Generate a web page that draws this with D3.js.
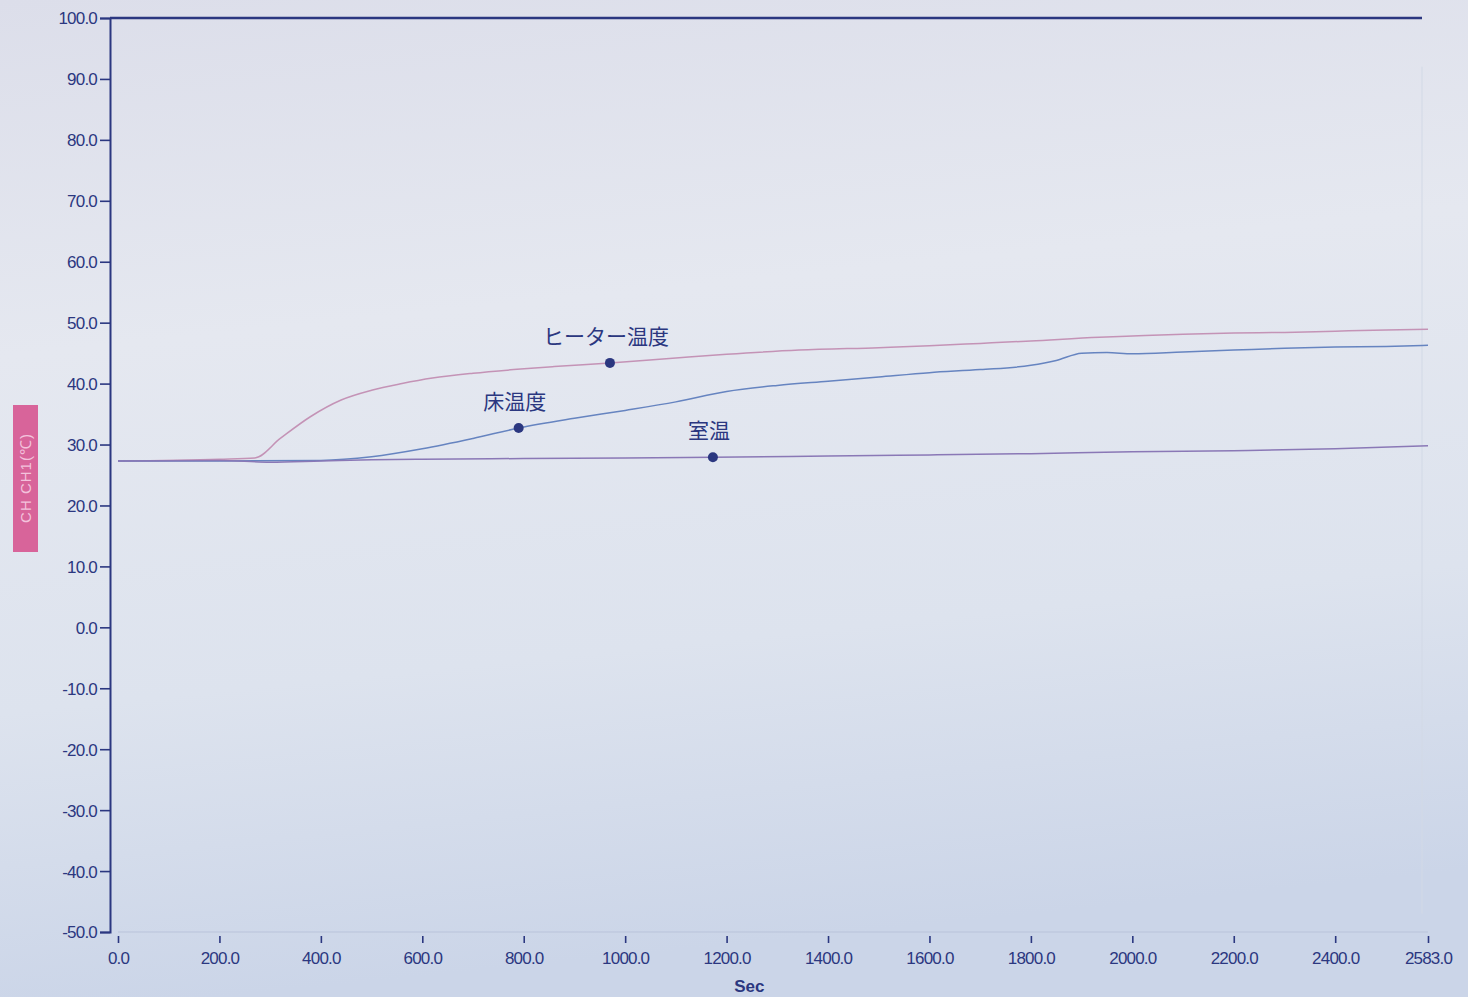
<!DOCTYPE html>
<html>
<head>
<meta charset="utf-8">
<script src="https://cdn.jsdelivr.net/npm/d3@7"></script>
<style>
  html, body { margin: 0; padding: 0; background: #dfe3ec; }
  svg { display: block; }
</style>
</head>
<body>
<div id="chart"></div>
<script>
// values (time in sec, temperature in °C)
const heaterTime = [0, 200, 270, 320, 380, 440, 500, 560, 620, 700, 780, 860, 970, 1100, 1200, 1343, 1500, 1600, 1700, 1800, 1935, 2000, 2100, 2200, 2300, 2400, 2500, 2583];
const heaterTemp = [27.3, 27.6, 27.8, 31.0, 34.6, 37.3, 38.9, 40.0, 40.9, 41.7, 42.3, 42.8, 43.4, 44.2, 44.8, 45.5, 45.9, 46.2, 46.6, 47.0, 47.6, 47.8, 48.1, 48.3, 48.4, 48.6, 48.8, 48.9];

const floorTime = [0, 200, 400, 500, 600, 700, 790, 900, 1000, 1100, 1200, 1300, 1400, 1500, 1600, 1700, 1800, 1850, 1900, 1950, 2000, 2100, 2200, 2300, 2400, 2500, 2583];
const floorTemp = [27.3, 27.3, 27.4, 28.0, 29.3, 31.0, 32.7, 34.3, 35.6, 37.0, 38.7, 39.7, 40.4, 41.1, 41.8, 42.3, 43.0, 43.8, 45.0, 45.1, 44.9, 45.2, 45.5, 45.8, 46.0, 46.1, 46.3];

const roomTime = [0, 200, 300, 400, 500, 600, 800, 1000, 1173, 1400, 1600, 1800, 2000, 2200, 2400, 2583];
const roomTemp = [27.3, 27.4, 27.1, 27.3, 27.5, 27.6, 27.7, 27.8, 27.9, 28.1, 28.3, 28.5, 28.8, 29.0, 29.3, 29.8];

// labelled points
const markerNames = ["ヒーター温度", "床温度", "室温"];
const markerTimes = [970, 790, 1173];

const xTicks = [0, 200, 400, 600, 800, 1000, 1200, 1400, 1600, 1800, 2000, 2200, 2400, 2583];
const yTicks = [100, 90, 80, 70, 60, 50, 40, 30, 20, 10, 0, -10, -20, -30, -40, -50];

const W = 1468, H = 997;
const ink = "#2b3780";
const fmt = d => d3.format(".1f")(d).replace("−", "-");

const x = d3.scaleLinear().domain([0, 2583]).range([118, 1428]);
const y = d3.scaleLinear().domain([-50, 100]).range([932, 18]);

const svg = d3.select("#chart").append("svg")
    .attr("width", W).attr("height", H);

const defs = svg.append("defs");
const grad = defs.append("linearGradient").attr("id", "paper")
    .attr("x1", 0).attr("y1", 0).attr("x2", 0.15).attr("y2", 1);
grad.append("stop").attr("offset", "0%").attr("stop-color", "#dcdeea");
grad.append("stop").attr("offset", "35%").attr("stop-color", "#e5e8f0");
grad.append("stop").attr("offset", "70%").attr("stop-color", "#dde3ee");
grad.append("stop").attr("offset", "100%").attr("stop-color", "#cbd5e8");
svg.append("rect").attr("width", W).attr("height", H).attr("fill", "url(#paper)");

// frame: top line and faint bottom/right lines
svg.append("line")
    .attr("x1", x(0) - 8).attr("x2", x(2583) - 6)
    .attr("y1", y(100)).attr("y2", y(100))
    .attr("stroke", ink).attr("stroke-width", 2.4);
svg.append("line")
    .attr("x1", x(0)).attr("x2", x(2583))
    .attr("y1", y(-50)).attr("y2", y(-50))
    .attr("stroke", "#b9c3da").attr("stroke-width", 1);
svg.append("line")
    .attr("x1", x(2583) - 6).attr("x2", x(2583) - 6)
    .attr("y1", y(92)).attr("y2", y(-47))
    .attr("stroke", "#d2d9e6").attr("stroke-width", 1);

// y axis
const yAxis = d3.axisLeft(y)
    .tickValues(yTicks)
    .tickSize(10)
    .tickPadding(3)
    .tickFormat(fmt);
const gy = svg.append("g")
    .attr("transform", `translate(${x(0) - 8},0)`)
    .call(yAxis);
gy.select(".domain").attr("stroke", ink).attr("stroke-width", 2);
gy.selectAll(".tick line").attr("stroke", ink).attr("stroke-width", 1.6);
gy.selectAll(".tick text")
    .attr("fill", ink)
    .style("font", "17px 'Liberation Sans', Arial, sans-serif")
    .style("letter-spacing", "-0.8px")
    .attr("dy", "0.35em");

// x axis: small ticks below, labels under them
const xAxis = d3.axisBottom(x)
    .tickValues(xTicks)
    .tickSize(7)
    .tickPadding(9)
    .tickFormat(fmt);
const gx = svg.append("g")
    .attr("transform", `translate(0,${y(-50) + 4})`)
    .call(xAxis);
gx.select(".domain").remove();
gx.selectAll(".tick line").attr("stroke", ink).attr("stroke-width", 1.6);
gx.selectAll(".tick text")
    .attr("fill", ink)
    .style("font", "17px 'Liberation Sans', Arial, sans-serif")
    .style("letter-spacing", "-0.8px");

svg.append("text")
    .attr("x", x(1245)).attr("y", 992)
    .attr("text-anchor", "middle")
    .attr("fill", ink)
    .style("font", "bold 17px 'Liberation Sans', Arial, sans-serif")
    .text("Sec");

// pink channel label box
svg.append("rect")
    .attr("x", 13).attr("y", 405).attr("width", 25).attr("height", 147)
    .attr("fill", "#d8649a");
svg.append("text")
    .attr("transform", "translate(31,478) rotate(-90)")
    .attr("text-anchor", "middle")
    .attr("fill", "#f3c2dc")
    .style("font", "15px 'Liberation Sans', Arial, sans-serif")
    .style("letter-spacing", "1px")
    .text("CH   CH1(℃)");

// series
const series = [
  { time: heaterTime, temp: heaterTemp, color: "#c493b6" },
  { time: floorTime, temp: floorTemp, color: "#6684c0" },
  { time: roomTime, temp: roomTemp, color: "#8a78b6" }
];

const line = d3.line()
    .x(d => x(d[0]))
    .y(d => y(d[1]))
    .curve(d3.curveMonotoneX);

series.forEach(s => {
  svg.append("path")
      .datum(s.time.map((t, i) => [t, s.temp[i]]))
      .attr("fill", "none")
      .attr("stroke", s.color)
      .attr("stroke-width", 1.5)
      .attr("d", line);
});

// markers with labels
markerTimes.forEach((t, i) => {
  const s = series[i];
  const v = d3.scaleLinear().domain(s.time).range(s.temp)(t);
  svg.append("circle")
      .attr("cx", x(t)).attr("cy", y(v)).attr("r", 5)
      .attr("fill", ink);
  svg.append("text")
      .attr("x", x(t) - 4).attr("y", y(v) - 19)
      .attr("text-anchor", "middle")
      .attr("fill", ink)
      .style("font", "21px 'Noto Sans CJK JP', sans-serif")
      .text(markerNames[i]);
});
</script>
</body>
</html>
